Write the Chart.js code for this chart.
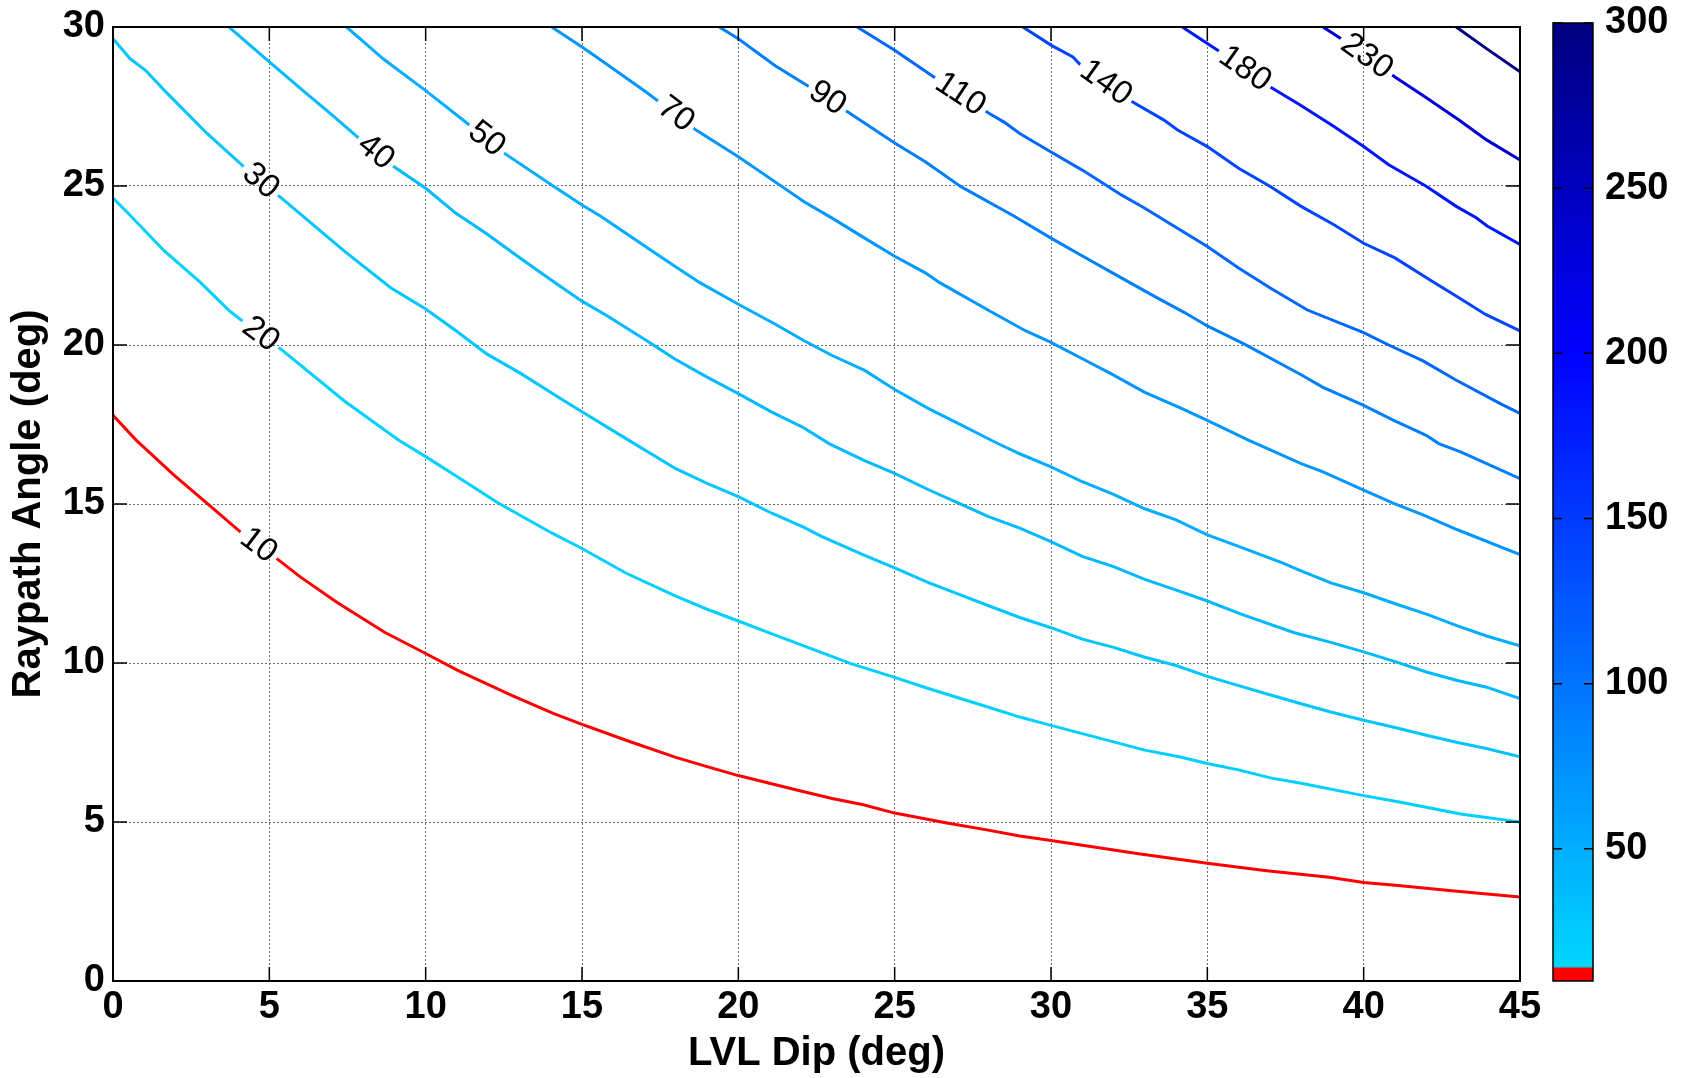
<!DOCTYPE html>
<html>
<head>
<meta charset="utf-8">
<title>Raypath angle vs LVL dip</title>
<script src="https://cdn.jsdelivr.net/npm/chart.js@4.4.1/dist/chart.umd.min.js"></script>
<style>
    html, body { margin: 0; padding: 0; background: #fff; }
    #wrap { position: relative; width: 1683px; height: 1078px; }
    #contours { position: absolute; left: 0; top: 0; }
    #colorbar { position: absolute; left: 1500px; top: 0; }
</style>
</head>
<body>
<div id="wrap">
    <canvas id="contours" width="1683" height="1078"></canvas>
    <canvas id="colorbar" width="183" height="1078"></canvas>
</div>
<script>
// contour levels and where along each line (in dip degrees) its label sits
const levels = [10, 20, 30, 40, 50, 70, 90, 110, 140, 180, 230, 300];
const labelDip = [4.65, 4.72, 4.72, 8.4, 11.95, 18.0, 22.85, 27.1, 31.75, 36.2, 40.1, null];

const xTicks = [0, 5, 10, 15, 20, 25, 30, 35, 40, 45];
const yTicks = [0, 5, 10, 15, 20, 25, 30];
const cbarTicks = [50, 100, 150, 200, 250, 300];
const cbarSpans = [[10, 14], [14, 300]];

// [dip, raypath angle] along each contour
const c10 = [[0, 17.79], [0.74, 17.01], [1.96, 15.9], [3.0, 15.03], [4.23, 13.99], [5.27, 13.26], [6.0, 12.7],
    [7.17, 11.9], [8.7, 10.96], [10, 10.3], [11.04, 9.76], [12.75, 8.98], [14.1, 8.41], [15, 8.07], [16.5, 7.54],
    [18, 7.03], [19, 6.74], [20, 6.46], [21.9, 6.0], [23, 5.74], [24, 5.54], [25, 5.28], [26.67, 4.97], [27.9, 4.76],
    [29, 4.56], [30, 4.42], [32.8, 4.0], [35, 3.7], [36.9, 3.47], [38.9, 3.26], [40, 3.1], [41.1, 3.0], [42.9, 2.83],
    [45, 2.64]];
const c20 = [[0, 24.62], [0.43, 24.2], [1.65, 22.95], [2.76, 22.0], [3.74, 21.06], [4.41, 20.55], [5.33, 19.9],
    [7.4, 18.24], [9.13, 17.01], [10, 16.49], [11.1, 15.8], [12.32, 15.03], [14.03, 14.09], [15, 13.6], [16.4, 12.83],
    [18, 12.1], [19, 11.69], [20, 11.32], [20.95, 10.96], [22.2, 10.5], [23.6, 9.98], [25, 9.55], [26.1, 9.19],
    [27.8, 8.67], [29, 8.3], [30, 8.04], [32, 7.52], [33, 7.26], [34.1, 7.05], [35, 6.84], [36, 6.64], [37.05, 6.38],
    [38, 6.22], [40, 5.83], [41.1, 5.64], [43.1, 5.25], [45, 5.0]];
const c30 = [[0, 29.63], [0.55, 29.0], [1.04, 28.64], [1.65, 28.0], [3.0, 26.66], [3.74, 26.0], [4.47, 25.35],
    [5.39, 24.62], [7.4, 22.95], [8.88, 21.8], [10, 21.13], [10.97, 20.45], [11.95, 19.72], [13.05, 19.1],
    [14.4, 18.26], [15, 17.9], [16.5, 17.0], [18, 16.11], [19, 15.65], [20, 15.23], [21.07, 14.71], [22.05, 14.29],
    [22.66, 13.98], [24, 13.4], [25, 12.99], [26.1, 12.52], [27.06, 12.16], [27.9, 11.84], [29, 11.43], [30, 11.11],
    [31, 10.75], [32, 10.49], [33, 10.18], [34, 9.92], [35, 9.58], [36, 9.29], [37, 9.0], [38, 8.72], [38.95, 8.46],
    [40, 8.2], [41, 7.97], [42, 7.73], [43, 7.5], [43.93, 7.31], [45, 7.05]];
const c40 = [[3.71, 30], [5, 28.9], [6.2, 27.9], [7.05, 27.2], [8.1, 26.3], [9.0, 25.6], [10, 24.93], [10.97, 24.14],
    [11.95, 23.5], [12.93, 22.8], [14, 22.05], [15, 21.38], [15.8, 20.92], [17.06, 20.14], [17.97, 19.56],
    [19.0, 18.99], [20, 18.47], [21.07, 17.89], [22.05, 17.42], [22.9, 16.9], [24, 16.38], [25, 15.96], [26.1, 15.44],
    [27.06, 15.02], [28, 14.6], [29, 14.24], [30, 13.82], [31, 13.35], [32, 13.03], [33, 12.63], [34.1, 12.26],
    [35, 11.95], [36.1, 11.53], [37.76, 10.96], [38.95, 10.65], [40, 10.35], [41.08, 10.02], [42.03, 9.71], [43, 9.45],
    [43.93, 9.24], [45, 8.88]];
const c50 = [[7.47, 30], [8.64, 29.0], [10, 28.0], [11.46, 26.87], [12.44, 26.08], [14.03, 25.03], [15, 24.4],
    [15.6, 24.05], [17.17, 23.0], [17.97, 22.48], [18.77, 21.96], [20, 21.28], [21.17, 20.66],
    [22.09, 20.14], [23, 19.67], [24.04, 19.2], [25, 18.6], [26.1, 17.99], [27.06, 17.52], [28.2, 16.95], [29, 16.58],
    [30, 16.17], [31, 15.7], [32, 15.3], [33, 14.85], [34, 14.5], [35, 14.03], [36, 13.67], [37.4, 13.15],
    [37.9, 12.94], [38.95, 12.52], [40, 12.21], [41.08, 11.84], [42.03, 11.53], [43, 11.17], [43.93, 10.85],
    [45, 10.54]];
const c70 = [[14.03, 30], [15, 29.37], [15.6, 28.96], [17.06, 27.95], [17.69, 27.48], [18.66, 26.75], [20, 25.92],
    [21.4, 24.98], [22.09, 24.51], [23, 23.99], [24.04, 23.36], [25, 22.79], [25.98, 22.27], [26.44, 21.96],
    [28.04, 21.07], [29.18, 20.45], [30, 20.08], [31.02, 19.56], [31.93, 19.09], [33, 18.51], [34.1, 18.04],
    [35, 17.63], [36.33, 17.0], [37.05, 16.69], [38, 16.27], [38.7, 16.01], [40, 15.44], [40.96, 15.02], [41.9, 14.66],
    [43, 14.19], [45, 13.41]];
const c90 = [[19.39, 30], [20, 29.63], [21.18, 28.78], [22.55, 27.95], [25, 26.35],
    [25.98, 25.76], [27.12, 24.98], [28.84, 24.04], [30, 23.36], [31.02, 22.79], [32.25, 22.11], [33.18, 21.6],
    [34.27, 21.02], [35, 20.6], [36.2, 20.02], [37.97, 19.08], [38.7, 18.67], [40, 18.1], [40.96, 17.63], [42, 17.16],
    [42.4, 16.9], [43.1, 16.64], [45, 15.8]];
const c110 = [[23.8, 30], [25, 29.27], [26.43, 28.31], [28.04, 27.27], [28.5, 27.01], [29, 26.65],
    [30, 26.07], [31, 25.5], [32.25, 24.72], [33, 24.3], [35, 23.1], [36, 22.42], [37, 21.8], [38.2, 21.1],
    [40, 20.39], [40.8, 20.0], [41.9, 19.5], [42.95, 18.9], [44.4, 18.14], [45, 17.85]];
const c140 = [[29.1, 30], [30, 29.43], [30.7, 29.06], [31.0, 28.75], [32.6, 27.65], [33.6, 27.08], [34.05, 26.76],
    [35, 26.24], [36, 25.56], [37, 24.99], [38, 24.36], [39.05, 23.78], [40, 23.2], [41, 22.74], [42.2, 22.0],
    [43.06, 21.48], [43.9, 20.96], [45, 20.44]];
const c180 = [[34.2, 30], [35, 29.48], [35.6, 29.1], [37, 28.12], [37.97, 27.55], [39.05, 26.87], [40, 26.24],
    [40.8, 25.67], [42, 24.99], [42.96, 24.36], [43.6, 24.0], [43.95, 23.74], [45, 23.16]];
const c230 = [[38.7, 30], [39.6, 29.43], [41, 28.43], [41.97, 27.8], [43.06, 27.07], [43.93, 26.45], [45, 25.82]];
const c300 = [[42.96, 30], [43.93, 29.32], [45, 28.59]];

const contours = [c10, c20, c30, c40, c50, c70, c90, c110, c140, c180, c230, c300];

const FONT = '"Liberation Sans", Arial, Helvetica, sans-serif';
const LABEL_FONT = '33px ' + FONT;
Chart.defaults.font.family = FONT;
Chart.defaults.color = '#000';

// colormap: lowest bin red, then cyan -> blue -> navy
const cmapStops = [[14, [0, 215, 255]], [200, [0, 0, 255]], [300, [0, 0, 128]]];

function levelColor(v) {
    if (v < cmapStops[0][0]) return 'rgb(255,0,0)';
    for (let i = 0; i < cmapStops.length - 1; i++) {
        const [v0, a] = cmapStops[i];
        const [v1, b] = cmapStops[i + 1];
        if (v <= v1) {
            const t = (v - v0) / (v1 - v0);
            const c = a.map((ch, k) => Math.round(ch + (b[k] - ch) * t));
            return `rgb(${c[0]},${c[1]},${c[2]})`;
        }
    }
    const last = cmapStops[cmapStops.length - 1][1];
    return `rgb(${last[0]},${last[1]},${last[2]})`;
}

function angleAt(pts, x) {
    for (let i = 0; i < pts.length - 1; i++) {
        const [x0, y0] = pts[i];
        const [x1, y1] = pts[i + 1];
        if (x >= x0 && x <= x1) {
            return y0 + (y1 - y0) * (x - x0) / (x1 - x0);
        }
    }
    return pts[pts.length - 1][1];
}

// label position, rotation and size for contour i
function labelGeometry(chart, i) {
    const x0 = labelDip[i];
    if (x0 == null) return null;
    const pts = contours[i];
    const xs = chart.scales.x;
    const ys = chart.scales.y;
    const xa = Math.max(pts[0][0], x0 - 0.8);
    const xb = Math.min(pts[pts.length - 1][0], x0 + 0.8);
    const ax = xs.getPixelForValue(xa), ay = ys.getPixelForValue(angleAt(pts, xa));
    const bx = xs.getPixelForValue(xb), by = ys.getPixelForValue(angleAt(pts, xb));
    const ctx = chart.ctx;
    ctx.save();
    ctx.font = LABEL_FONT;
    const text = String(levels[i]);
    const w = ctx.measureText(text).width;
    ctx.restore();
    return {
        px: xs.getPixelForValue(x0),
        py: ys.getPixelForValue(angleAt(pts, x0)),
        rot: Math.atan2(by - ay, bx - ax),
        w: w,
        text: text
    };
}

// break each line where its label goes, then write the label
const contourLabels = {
    id: 'contourLabels',
    beforeDatasetDraw(chart, args) {
        const g = labelGeometry(chart, args.index);
        if (!g) return;
        const ctx = chart.ctx;
        const hw = g.w / 2 + 4, hh = 15;
        const cos = Math.cos(g.rot), sin = Math.sin(g.rot);
        const corner = (u, v) => [g.px + u * cos - v * sin, g.py + u * sin + v * cos];
        ctx.save();
        ctx.beginPath();
        ctx.rect(0, 0, chart.width, chart.height);
        const c = [corner(-hw, -hh), corner(hw, -hh), corner(hw, hh), corner(-hw, hh)];
        ctx.moveTo(c[0][0], c[0][1]);
        for (let k = 1; k < 4; k++) ctx.lineTo(c[k][0], c[k][1]);
        ctx.closePath();
        ctx.clip('evenodd');
    },
    afterDatasetDraw(chart, args) {
        if (labelDip[args.index] != null) chart.ctx.restore();
    },
    afterDatasetsDraw(chart) {
        const ctx = chart.ctx;
        levels.forEach((lv, i) => {
            const g = labelGeometry(chart, i);
            if (!g) return;
            ctx.save();
            ctx.translate(g.px, g.py);
            ctx.rotate(g.rot);
            ctx.font = LABEL_FONT;
            ctx.fillStyle = '#000';
            ctx.textAlign = 'center';
            ctx.textBaseline = 'middle';
            ctx.fillText(g.text, 0, 0);
            ctx.restore();
        });
    }
};

// box around the plot with inward tick marks on all four sides
const axesFrame = {
    id: 'axesFrame',
    afterDraw(chart) {
        const {ctx, chartArea: a, scales: {x, y}} = chart;
        const tl = 14;
        ctx.save();
        ctx.strokeStyle = '#000';
        ctx.lineWidth = 1.5;
        ctx.beginPath();
        xTicks.forEach(v => {
            const px = x.getPixelForValue(v);
            ctx.moveTo(px, a.bottom); ctx.lineTo(px, a.bottom - tl);
            ctx.moveTo(px, a.top); ctx.lineTo(px, a.top + tl);
        });
        yTicks.forEach(v => {
            const py = y.getPixelForValue(v);
            ctx.moveTo(a.left, py); ctx.lineTo(a.left + tl, py);
            ctx.moveTo(a.right, py); ctx.lineTo(a.right - tl, py);
        });
        ctx.stroke();
        ctx.lineWidth = 2;
        ctx.strokeRect(a.left, a.top, a.right - a.left, a.bottom - a.top);
        ctx.restore();
    }
};

const tickFont = { size: 38, weight: 'bold', lineHeight: 1 };
const titleFont = { size: 40, weight: 'bold', lineHeight: 1.2 };

new Chart(document.getElementById('contours'), {
    type: 'line',
    data: {
        datasets: levels.map((lv, i) => ({
            label: String(lv),
            data: contours[i].map(([x, y]) => ({ x, y })),
            borderColor: levelColor(lv),
            borderWidth: 3,
            pointRadius: 0,
            fill: false,
            tension: 0
        }))
    },
    options: {
        responsive: false,
        animation: false,
        devicePixelRatio: 1,
        events: [],
        layout: { padding: { left: 0, top: 20, right: 163, bottom: 0 } },
        plugins: { legend: { display: false }, tooltip: { enabled: false } },
        scales: {
            x: {
                type: 'linear',
                min: 0,
                max: 45,
                afterBuildTicks: s => { s.ticks = xTicks.map(v => ({ value: v })); },
                afterFit: s => { s.height = 97; },
                grid: { color: '#6e6e6e', lineWidth: 1, drawTicks: false },
                border: { display: false, dash: [2, 2] },
                ticks: { font: tickFont, color: '#000', padding: 8, maxRotation: 0, autoSkip: false },
                title: { display: true, text: 'LVL Dip (deg)', font: titleFont, color: '#000', padding: { top: 0, bottom: 0 } }
            },
            y: {
                type: 'linear',
                min: 0,
                max: 30,
                afterBuildTicks: s => { s.ticks = yTicks.map(v => ({ value: v })); },
                afterFit: s => { s.width = 113; },
                grid: { color: '#6e6e6e', lineWidth: 1, drawTicks: false },
                border: { display: false, dash: [2, 2] },
                ticks: { font: tickFont, color: '#000', padding: 8 },
                title: { display: true, text: 'Raypath Angle (deg)', font: titleFont, color: '#000', padding: { top: 5, bottom: 0 } }
            }
        }
    },
    plugins: [contourLabels, axesFrame]
});

// colorbar
function colorbarFill(context) {
    const chart = context.chart;
    const area = chart.chartArea;
    if (!area) return null;
    const y = chart.scales.y;
    const lo = cbarSpans[1][0], hi = cbarSpans[1][1];
    const g = chart.ctx.createLinearGradient(0, y.getPixelForValue(lo), 0, y.getPixelForValue(hi));
    for (let k = 0; k <= 20; k++) {
        const v = lo + (hi - lo) * k / 20;
        g.addColorStop(k / 20, levelColor(v));
    }
    return g;
}

const colorbarFrame = {
    id: 'colorbarFrame',
    afterDraw(chart) {
        const {ctx, chartArea: a, scales: {y}} = chart;
        ctx.save();
        ctx.strokeStyle = '#000';
        ctx.lineWidth = 1.5;
        ctx.beginPath();
        cbarTicks.forEach(v => {
            const py = y.getPixelForValue(v);
            ctx.moveTo(a.left, py); ctx.lineTo(a.left + 9, py);
            ctx.moveTo(a.right, py); ctx.lineTo(a.right - 9, py);
        });
        ctx.stroke();
        ctx.strokeRect(a.left, a.top, a.right - a.left, a.bottom - a.top);
        ctx.restore();
    }
};

new Chart(document.getElementById('colorbar'), {
    type: 'bar',
    data: {
        labels: [''],
        datasets: cbarSpans.map((span, i) => ({
            data: [span],
            backgroundColor: i === 0 ? levelColor(span[0]) : colorbarFill,
            borderWidth: 0,
            barPercentage: 1,
            categoryPercentage: 1,
            grouped: false
        }))
    },
    options: {
        responsive: false,
        animation: false,
        devicePixelRatio: 1,
        events: [],
        layout: { padding: { left: 53, top: 20, right: 0, bottom: 97 } },
        plugins: { legend: { display: false }, tooltip: { enabled: false } },
        scales: {
            x: { display: false },
            y: {
                position: 'right',
                min: 10,
                max: 300,
                afterBuildTicks: s => { s.ticks = cbarTicks.map(v => ({ value: v })); },
                afterFit: s => { s.width = 90; },
                grid: { display: false },
                border: { display: false },
                ticks: { font: tickFont, color: '#000', padding: 4 }
            }
        }
    },
    plugins: [colorbarFrame]
});
</script>
</body>
</html>
